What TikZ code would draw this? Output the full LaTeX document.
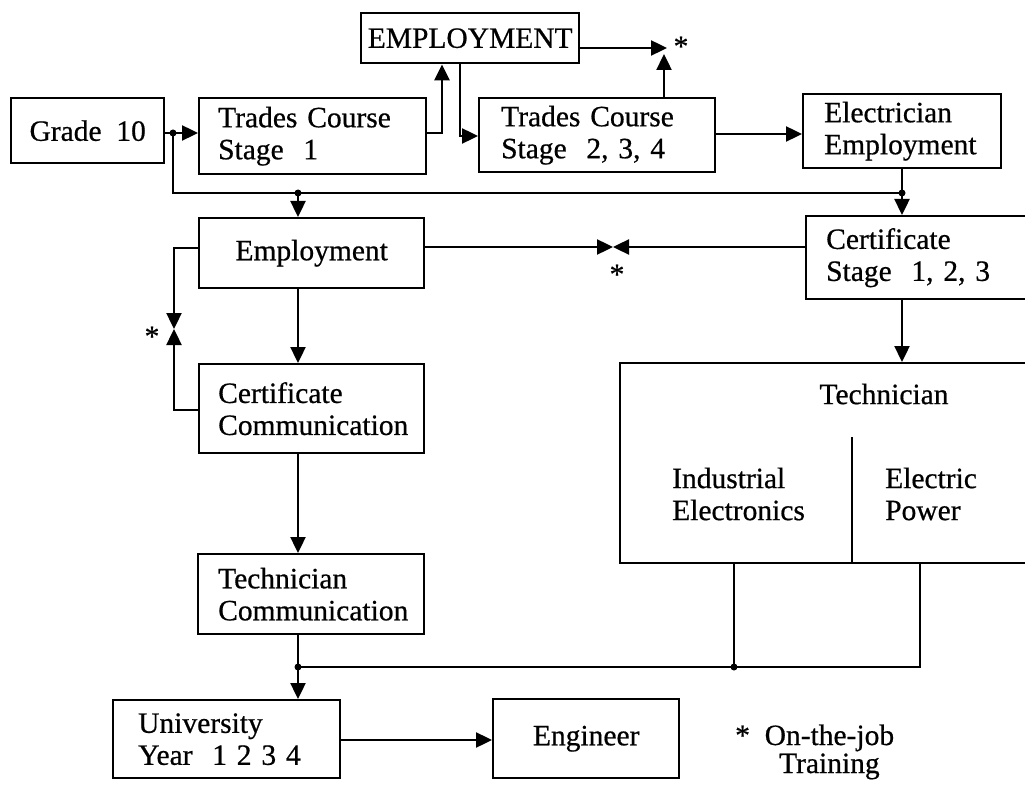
\documentclass[tikz,border=0pt]{standalone}
\usepackage{fontspec}
\setmainfont{Liberation Serif}[FakeBold=0.6]
\usetikzlibrary{arrows.meta}
\begin{document}
\begin{tikzpicture}[x=1pt,y=-1pt,
  every node/.style={font=\fontsize{29.5}{32}\selectfont, inner sep=0pt},
  box/.style={draw, line width=2.4pt, anchor=north west},
  cbox/.style={box, align=center},
  lbox/.style={box, align=left, inner xsep=#1},
  line/.style={line width=2.4pt},
  arr/.style={line, -{Triangle[length=16pt,width=15pt]}},
  dot/.style={circle, fill, inner sep=0pt, minimum size=7pt},
  starlbl/.style={anchor=base},
]
\useasboundingbox (0,0) rectangle (1025,786);

% boxes
\node[cbox, minimum width=153, minimum height=65] (grade) at (10,97) {Grade~ 10};
\node[lbox=19, text width=189, minimum width=227, minimum height=76] (ts1) at (198,97) {Trades Course\\Stage~ 1};
\node[cbox, minimum width=218, minimum height=50] (emp) at (360,12) {EMPLOYMENT};
\node[lbox=22, text width=192, minimum width=236, minimum height=74] (ts2) at (478,97) {Trades Course\\Stage~ 2, 3, 4};
\node[lbox=21, text width=156, minimum width=198, minimum height=74] (elec) at (802,93) {Electrician\\Employment};
\node[lbox=20, text width=190, minimum width=230, minimum height=83] (cstage) at (805,215) {Certificate\\Stage~ 1, 2, 3};
\node[cbox, minimum width=225, minimum height=70] (employ) at (198,217) {Employment};
\node[lbox=19, text width=187, minimum width=225, minimum height=89] (ccomm) at (198,363) {Certificate\\Communication};
\node[lbox=20, text width=186, minimum width=226, minimum height=80] (tcomm) at (197,553) {Technician\\Communication};
\node[lbox=25, text width=177, minimum width=227, minimum height=78] (univ) at (112,699) {University\\Year~ 1 2 3 4};
\node[cbox, minimum width=186, minimum height=79] (eng) at (492,698) {Engineer};

% technician block with its two branches
\node[box, minimum width=420, minimum height=200] (tech) at (619,362) {};
\node (techlbl) at (884,394) {Technician};
\node[anchor=west, align=left] (indel) at (672,494) {Industrial\\Electronics};
\node[anchor=west, align=left] (elpow) at (885,494) {Electric\\Power};
\coordinate (dv) at (852,437);
\draw[line] (dv) -- (dv |- tech.south);

% junction points
\coordinate (jg) at (173,133);
\coordinate (jl) at (173,193);
\coordinate (je) at (298,193);
\coordinate (jc) at (902,193);
\coordinate (jb) at (298,667);
\coordinate (jt) at (734,667);
\coordinate (jr) at (920,667);

% Grade 10 onwards
\draw[arr] (grade.east |- jg) -- (ts1.west |- jg);
\draw[line] (jg) -- (jl) -- (jc);
\draw[arr] (je) -- (employ.north -| je);
\draw[line] (elec.south -| jc) -- (jc);
\draw[arr] (jc) -- (cstage.north -| jc);

% trades course loop through EMPLOYMENT
\coordinate (up1) at (442,133);
\coordinate (dn1) at (460,136);
\draw[arr] (ts1.east |- up1) -- (up1) -- (emp.south -| up1);
\draw[arr] (emp.south -| dn1) -- (dn1) -- (ts2.west |- dn1);

% on-the-job training after the trades course
\coordinate (ojtA) at (667,48);
\coordinate (ojtB) at (664,54);
\draw[arr] (emp.east |- ojtA) -- (ojtA);
\draw[arr] (ts2.north -| ojtB) -- (ojtB);
\node[starlbl] (star1) at (681,56) {*};

\coordinate (r1) at (760,134);
\draw[arr] (ts2.east |- r1) -- (elec.west |- r1);

% Employment <-> Certificate Stage
\coordinate (bt) at (613,247);
\draw[arr] (employ.east |- bt) -- (bt);
\draw[arr] (cstage.west |- bt) -- (bt);
\node[starlbl] (star2) at (617,284) {*};

% Employment <-> Certificate Communication
\coordinate (bv) at (174,329);
\coordinate (bvt) at (174,248);
\coordinate (bvb) at (174,410);
\draw[arr] (employ.west |- bvt) -- (bvt) -- (bv);
\draw[arr] (ccomm.west |- bvb) -- (bvb) -- (bv);
\node[starlbl] (star3) at (152,346) {*};

% left column
\draw[arr] (employ.south -| je) -- (ccomm.north -| je);
\draw[arr] (ccomm.south -| je) -- (tcomm.north -| je);
\draw[arr] (tcomm.south -| jb) -- (univ.north -| jb);

% right column
\draw[arr] (cstage.south -| jc) -- (tech.north -| jc);
\draw[line] (jb) -- (jr) -- (jr |- tech.south);
\draw[line] (jt) -- (jt |- tech.south);

% university to engineer
\coordinate (ue) at (400,740);
\draw[arr] (univ.east |- ue) -- (eng.west |- ue);

% junction dots
\foreach \p in {jg,je,jc,jb,jt} \node[dot] at (\p) {};

% legend
\node[anchor=base west, font=\fontsize{29.5}{28}\selectfont] (legend) at (735,745)
  {*\enspace\begin{tabular}[t]{@{}c@{}}On-the-job\\Training\end{tabular}};
\end{tikzpicture}
\end{document}
